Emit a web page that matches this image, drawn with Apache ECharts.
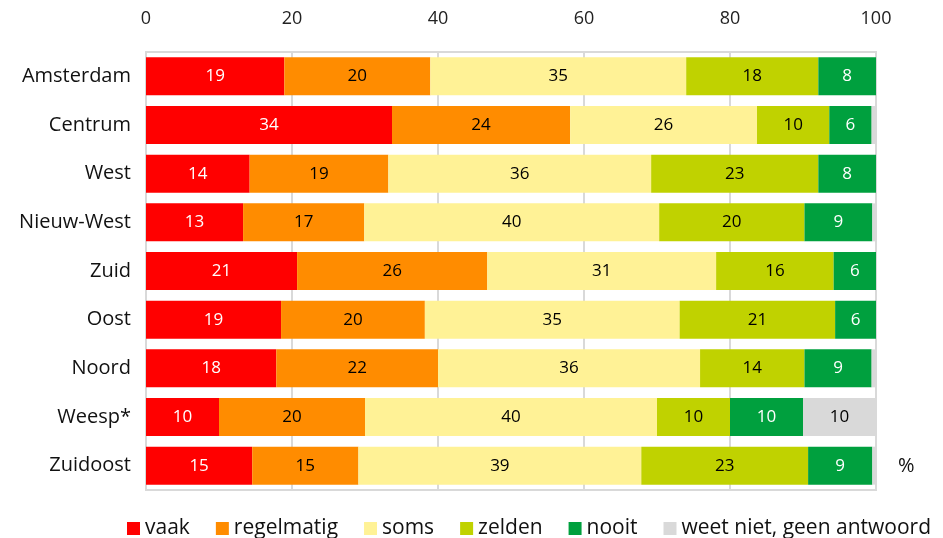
<!DOCTYPE html>
<html>
<head>
<meta charset="utf-8">
<script src="https://cdn.jsdelivr.net/npm/echarts@6/dist/echarts.min.js"></script>
<style>
  html, body { margin: 0; padding: 0; background: #fff; }
  #myChart { width: 943px; height: 538px; }
</style>
</head>
<body>
<div id="myChart"></div>
<script>
// categorieën (van boven naar beneden)
var stadsdelen = ["Amsterdam", "Centrum", "West", "Nieuw-West", "Zuid", "Oost", "Noord", "Weesp*", "Zuidoost"];
var reeksen = ["vaak", "regelmatig", "soms", "zelden", "nooit", "weet niet, geen antwoord"];
var kleuren = ["#ff0000", "#ff8c00", "#fff296", "#c0d200", "#00a03e", "#d9d9d9"];
var labelKleuren = ["#ffffff", "#000000", "#000000", "#000000", "#ffffff", "#000000"];

// percentages
var vaak       = [18.95, 33.7, 14.2, 13.3, 20.7, 18.5, 17.85, 10, 14.55];
var regelmatig = [20.0, 24.4, 19.0, 16.6, 26.05, 19.7, 22.15, 20, 14.55];
var soms       = [35.05, 25.6, 36.0, 40.4, 31.35, 34.9, 35.9, 40, 38.75];
var zelden     = [18.1, 9.9, 22.9, 19.9, 16.1, 21.3, 14.3, 10, 22.85];
var nooit      = [7.9, 5.8, 7.9, 9.3, 5.8, 5.6, 9.2, 10, 8.8];
var weetNiet   = [0, 0.6, 0, 0.5, 0, 0, 0.6, 10, 0.5];

var xTicks = [0, 20, 40, 60, 80, 100];

var waarden = [vaak, regelmatig, soms, zelden, nooit, weetNiet];

var chart = echarts.init(document.getElementById("myChart"));
var font = "'Open Sans', sans-serif";

var series = reeksen.map(function (naam, i) {
  return {
    type: "bar",
    name: naam,
    stack: "totaal",
    data: waarden[i],
    barCategoryGap: "22%",
    itemStyle: { color: kleuren[i] },
    label: {
      show: true,
      position: "inside",
      color: labelKleuren[i],
      fontFamily: font,
      fontSize: 17,
      formatter: function (p) {
        return p.value < 3 ? "" : Math.round(p.value);
      },
    },
  };
});

var option = {
  animation: false,
  textStyle: { fontFamily: font },
  legend: {
    data: reeksen,
    bottom: -6,
    left: 122,
    width: 1000,
    itemWidth: 13,
    itemHeight: 13,
    itemGap: 26,
    icon: "rect",
    textStyle: { fontSize: 21, color: "#111", fontFamily: font },
  },
  grid: {
    left: 146,
    right: 67,
    top: 52,
    bottom: 48,
    show: true,
    borderColor: "#d9d9d9",
    borderWidth: 2,
    backgroundColor: "transparent",
  },
  xAxis: {
    type: "value",
    position: "top",
    min: 0,
    max: 100,
    interval: 20,
    axisLine: { show: false },
    axisTick: { show: false },
    splitLine: { show: true, lineStyle: { color: "#d9d9d9", width: 2 } },
    axisLabel: {
      fontSize: 18,
      color: "#222",
      margin: 24,
      formatter: function (v) {
        return xTicks.indexOf(v) >= 0 ? v : "";
      },
    },
  },
  yAxis: {
    type: "category",
    data: stadsdelen,
    inverse: true,
    axisLine: { show: false },
    axisTick: { show: false },
    axisLabel: { fontSize: 20, color: "#111", margin: 15 },
  },
  graphic: [
    {
      type: "text",
      left: 898,
      top: 456,
      style: { text: "%", fontSize: 20, fill: "#111", fontFamily: font },
    },
  ],
  series: series,
};

chart.setOption(option);
</script>
</body>
</html>
